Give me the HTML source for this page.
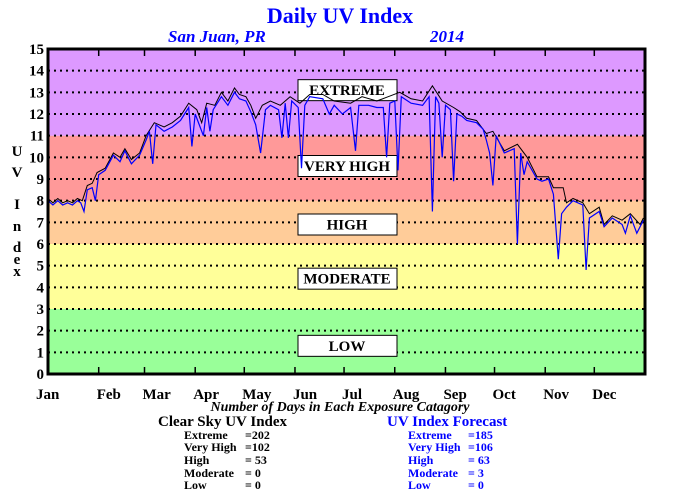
<!DOCTYPE html>
<html><head><meta charset="utf-8"><style>
body{margin:0;background:#fff;}
svg{display:block;font-family:"Liberation Serif",serif;font-weight:bold;}
</style></head><body>
<svg id="chart" width="680" height="500" viewBox="0 0 680 500">
<text x="340" y="23" text-anchor="middle" font-size="22" fill="#0000ff">Daily UV Index</text>
<text x="168" y="42" font-size="17" font-style="italic" fill="#0000ff">San Juan, PR</text>
<text x="430" y="42" font-size="17" font-style="italic" fill="#0000ff">2014</text>
<g id="bands"></g>
<g id="grid"></g>
<g id="boxes"></g>
<g id="series"></g>
<g id="axes"></g>
<g font-size="15">
<text x="17" y="156" text-anchor="middle">U</text>
<text x="17" y="177" text-anchor="middle">V</text>
<text x="17" y="209" text-anchor="middle">I</text>
<text x="17" y="231" text-anchor="middle">n</text>
<text x="17" y="252" text-anchor="middle">d</text>
<text x="17" y="264" text-anchor="middle">e</text>
<text x="17" y="276" text-anchor="middle">x</text>
</g>
<text x="340" y="411" text-anchor="middle" font-size="14" font-style="italic">Number of Days in Each Exposure Catagory</text>
<g font-size="12">
<text x="158" y="426" font-size="15">Clear Sky UV Index</text>
<text x="184" y="439">Extreme</text><text x="245" y="439">=202</text>
<text x="184" y="451">Very High</text><text x="245" y="451">=102</text>
<text x="184" y="464">High</text><text x="245" y="464">=  53</text>
<text x="184" y="477">Moderate</text><text x="245" y="477">=    0</text>
<text x="184" y="489">Low</text><text x="245" y="489">=    0</text>
</g>
<g font-size="12" fill="#0000ff">
<text x="387" y="426" font-size="15">UV Index Forecast</text>
<text x="408" y="439">Extreme</text><text x="468" y="439">=185</text>
<text x="408" y="451">Very High</text><text x="468" y="451">=106</text>
<text x="408" y="464">High</text><text x="468" y="464">=  63</text>
<text x="408" y="477">Moderate</text><text x="468" y="477">=    3</text>
<text x="408" y="489">Low</text><text x="468" y="489">=    0</text>
</g>
</svg>
<script>
const monthLabels=["Jan","Feb","Mar","Apr","May","Jun","Jul","Aug","Sep","Oct","Nov","Dec"];
const monthStarts=[0,31,59,90,120,151,181,212,243,273,304,334];
const yTicks=[0,1,2,3,4,5,6,7,8,9,10,11,12,13,14,15];
const bandNames=["LOW","MODERATE","HIGH","VERY HIGH","EXTREME"];
const bandLimits=[0,3,6,8,11,15];
const clearDays=[0,3,6,9,12,15,18,21,24,27,30,35,40,44,47,51,56,60,65,71,76,81,86,91,94,97,102,106,110,114,117,121,124,127,131,136,142,148,154,160,168,175,185,192,201,208,215,222,229,235,241,248,252,256,262,268,272,279,287,293,299,306,309,315,317,321,327,331,337,340,345,351,356,362,364];
const clearValues=[8.1,7.9,8.1,7.9,8.0,7.9,8.1,8.0,8.7,8.8,9.3,9.5,10.2,10.0,10.4,9.9,10.2,11.0,11.6,11.4,11.6,11.9,12.5,12.2,11.6,12.5,12.4,13.0,12.6,13.2,12.9,12.8,12.4,11.8,12.4,12.6,12.4,12.8,12.5,12.9,12.9,12.6,12.5,12.8,12.6,12.8,13.0,12.7,12.6,13.3,12.6,12.3,12.1,11.8,11.7,11.1,11.2,10.3,10.6,10.0,9.1,9.1,8.6,8.6,7.9,8.1,7.9,7.4,7.7,6.9,7.3,7.1,7.4,6.9,7.2];
const fcDays=[0,3,6,9,12,15,18,20,22,24,27,29,31,35,40,44,47,51,56,60,62,64,66,71,76,81,86,88,90,93,95,97,99,101,106,110,114,117,121,124,127,130,133,136,141,143,145,147,149,153,155,157,160,168,172,175,180,185,188,190,196,201,205,207,209,212,214,216,222,229,233,235,237,239,241,243,246,248,250,253,256,262,266,268,270,272,274,279,285,287,289,291,293,299,302,306,309,312,314,317,321,327,329,331,337,340,345,351,353,356,360,362,364];
const fcValues=[8.0,7.8,8.0,7.8,7.9,7.8,8.0,7.9,7.5,8.5,8.6,8.0,9.2,9.4,10.1,9.8,10.3,9.7,10.1,10.8,11.2,9.7,11.5,11.2,11.4,11.7,12.3,10.5,12.0,11.4,11.0,12.3,11.2,12.2,12.8,12.4,13.0,12.7,12.6,12.1,11.5,10.2,12.2,12.4,12.2,10.9,12.5,10.9,12.6,12.3,9.5,12.4,12.8,12.7,12.0,12.4,12.0,12.3,10.3,12.4,12.4,12.3,12.3,10.0,12.5,12.6,9.4,12.8,12.5,12.4,12.8,7.5,12.8,12.5,10.0,12.4,12.2,8.9,12.0,11.9,11.7,11.6,11.3,10.8,10.2,8.7,11.0,10.2,10.4,6.0,10.2,9.2,9.8,9.0,8.9,9.0,8.3,5.3,7.4,7.7,8.0,7.8,4.8,7.2,7.5,6.8,7.2,6.9,6.5,7.3,6.5,6.8,7.1];

const L=48,R=645,T=49,B=374,NS="http://www.w3.org/2000/svg";
const xS=d=>L+d*(R-L)/365;
const yS=v=>B-v*(B-T)/15;
function mk(tag,attrs,parent){const e=document.createElementNS(NS,tag);for(const k in attrs)e.setAttribute(k,attrs[k]);parent.appendChild(e);return e;}
const bandColors=["#99ff99","#ffff99","#ffcc99","#ff9999","#dd99ff"];
const bands=document.getElementById('bands');
for(let i=0;i<5;i++){
 const r=mk('rect',{x:L,y:yS(bandLimits[i+1]),width:R-L,height:yS(bandLimits[i])-yS(bandLimits[i+1]),fill:bandColors[i]},bands);
 
 
}
const grid=document.getElementById('grid');
for(let v=1;v<15;v++){
 const l=mk('line',{x1:L,x2:R,y1:yS(v),y2:yS(v),stroke:"#000","stroke-width":2,"stroke-dasharray":"2 4"},grid);
 
 
}
const boxes=document.getElementById('boxes');
const boxCenters=[1.3,4.4,6.9,9.6,13.1];
for(let i=0;i<5;i++){
 const cy=yS(boxCenters[i]);
 const r=mk('rect',{x:298,y:cy-10.5,width:99,height:21,fill:"#fff",stroke:"#000","stroke-width":1},boxes);
 
 
 const t=mk('text',{x:347,y:cy+5,"text-anchor":"middle","font-size":15},boxes);
 t.textContent=bandNames[i];
 
 
}
const series=document.getElementById('series');
const cl=mk('polyline',{points:clearDays.map((d,i)=>xS(d).toFixed(1)+','+yS(clearValues[i]).toFixed(1)).join(' '),fill:"none",stroke:"#000","stroke-width":1},series);


const fl=mk('polyline',{points:fcDays.map((d,i)=>xS(d).toFixed(1)+','+yS(fcValues[i]).toFixed(1)).join(' '),fill:"none",stroke:"#0000ff","stroke-width":1.2},series);


const axes=document.getElementById('axes');
const fr=mk('rect',{x:L,y:T,width:R-L,height:B-T,fill:"none",stroke:"#000","stroke-width":3},axes);


yTicks.forEach(v=>{
 const t=mk('text',{x:44,y:yS(v)+5,"text-anchor":"end","font-size":15},axes);
 t.textContent=v;
 
 
});
monthStarts.forEach((d,i)=>{
 if(i>0){
  mk('line',{x1:xS(d),x2:xS(d),y1:T,y2:T+7,stroke:"#000","stroke-width":1.5},axes);
  mk('line',{x1:xS(d),x2:xS(d),y1:B,y2:B-7,stroke:"#000","stroke-width":1.5},axes);
 }
 const t=mk('text',{x:xS(d)-12+(i==0?-1:0)+12-12+12- (i==0?12:0) ,y:399,"font-size":15},axes);
 t.setAttribute('x',(i==0?36:xS(d)-2));
 t.textContent=monthLabels[i];
 
 
});
</script>
</body></html>
